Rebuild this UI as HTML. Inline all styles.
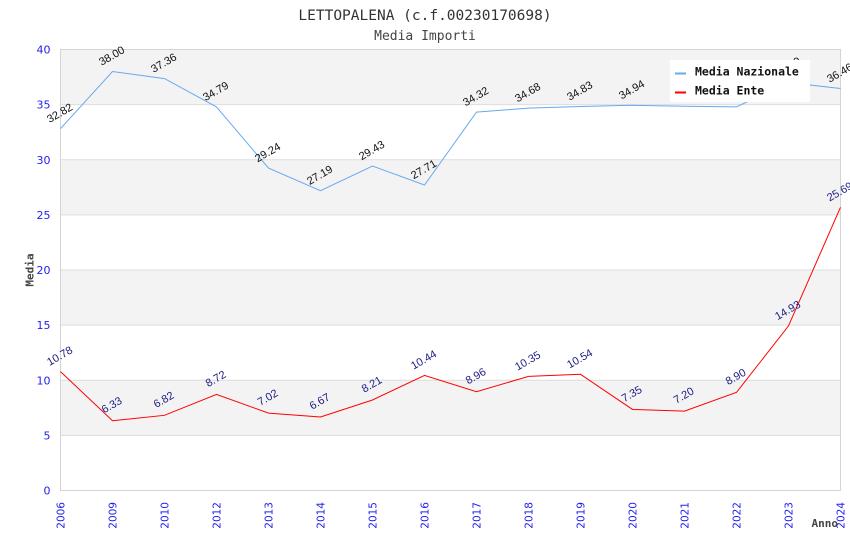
<!DOCTYPE html>
<html><head><meta charset="utf-8"><style>
html,body{margin:0;padding:0;background:#fff;}
svg{display:block;}
</style></head><body>
<svg width="850" height="550" xmlns="http://www.w3.org/2000/svg">
<rect width="850" height="550" fill="#fff"/>
<!-- bands -->
<rect x="60.5" y="49.5" width="780" height="55.125" fill="#f3f3f3"/>
<rect x="60.5" y="159.75" width="780" height="55.125" fill="#f3f3f3"/>
<rect x="60.5" y="270" width="780" height="55.125" fill="#f3f3f3"/>
<rect x="60.5" y="380.25" width="780" height="55.125" fill="#f3f3f3"/>
<!-- grid -->
<g stroke="#dddddd" stroke-width="1">
<line x1="60.5" x2="840.5" y1="435.4" y2="435.4"/>
<line x1="60.5" x2="840.5" y1="380.25" y2="380.25"/>
<line x1="60.5" x2="840.5" y1="325.1" y2="325.1"/>
<line x1="60.5" x2="840.5" y1="270" y2="270"/>
<line x1="60.5" x2="840.5" y1="214.9" y2="214.9"/>
<line x1="60.5" x2="840.5" y1="159.75" y2="159.75"/>
<line x1="60.5" x2="840.5" y1="104.6" y2="104.6"/>
</g>
<rect x="60.5" y="49.5" width="780" height="441" fill="none" stroke="#d4d4d4" stroke-width="1"/>
<!-- title -->
<text x="425" y="20" text-anchor="middle" font-family="DejaVu Sans Mono, Liberation Mono, monospace" font-size="14.5" fill="#333">LETTOPALENA (c.f.00230170698)</text>
<text x="425" y="40" text-anchor="middle" font-family="DejaVu Sans Mono, Liberation Mono, monospace" font-size="13" fill="#444">Media Importi</text>
<!-- y ticks -->
<g font-family="DejaVu Sans, Liberation Sans, sans-serif" font-size="11" fill="#2222ee" text-anchor="end">
<text x="50.5" y="53.5">40</text>
<text x="50.5" y="108.6">35</text>
<text x="50.5" y="163.75">30</text>
<text x="50.5" y="218.9">25</text>
<text x="50.5" y="274">20</text>
<text x="50.5" y="329.1">15</text>
<text x="50.5" y="384.25">10</text>
<text x="50.5" y="439.4">5</text>
<text x="50.5" y="494.5">0</text>
</g>
<!-- x ticks -->
<g font-family="DejaVu Sans, Liberation Sans, sans-serif" font-size="10.5" fill="#2222ee" text-anchor="end">
<text transform="translate(64.5,502) rotate(-90)">2006</text>
<text transform="translate(116.5,502) rotate(-90)">2009</text>
<text transform="translate(168.5,502) rotate(-90)">2010</text>
<text transform="translate(220.5,502) rotate(-90)">2012</text>
<text transform="translate(272.5,502) rotate(-90)">2013</text>
<text transform="translate(324.5,502) rotate(-90)">2014</text>
<text transform="translate(376.5,502) rotate(-90)">2015</text>
<text transform="translate(428.5,502) rotate(-90)">2016</text>
<text transform="translate(480.5,502) rotate(-90)">2017</text>
<text transform="translate(532.5,502) rotate(-90)">2018</text>
<text transform="translate(584.5,502) rotate(-90)">2019</text>
<text transform="translate(636.5,502) rotate(-90)">2020</text>
<text transform="translate(688.5,502) rotate(-90)">2021</text>
<text transform="translate(740.5,502) rotate(-90)">2022</text>
<text transform="translate(792.5,502) rotate(-90)">2023</text>
<text transform="translate(844.5,502) rotate(-90)">2024</text>
</g>
<!-- axis titles -->
<text x="838" y="527" text-anchor="end" font-family="DejaVu Sans Mono, Liberation Mono, monospace" font-weight="bold" font-size="11" fill="#444">Anno</text>
<text transform="translate(33.5,270) rotate(-90)" text-anchor="middle" font-family="DejaVu Sans Mono, Liberation Mono, monospace" font-weight="bold" font-size="11" fill="#444">Media</text>
<!-- series -->
<polyline fill="none" stroke="#66aaee" stroke-width="1" points="60.5,128.66 112.5,71.55 164.5,78.61 216.5,106.94 268.5,168.13 320.5,190.73 372.5,166.03 424.5,185 476.5,112.12 528.5,108.15 580.5,106.5 632.5,105.29 684.5,106.28 736.5,106.83 788.5,82.57 840.5,88.53"/>
<polyline fill="none" stroke="#ff0000" stroke-width="1" points="60.5,371.65 112.5,420.71 164.5,415.31 216.5,394.36 268.5,413.1 320.5,416.96 372.5,399.98 424.5,375.4 476.5,391.72 528.5,376.39 580.5,374.3 632.5,409.47 684.5,411.12 736.5,392.38 788.5,325.9 840.5,207.27"/>
<!-- labels nazionale -->
<g font-family="Liberation Sans, Arial, sans-serif" font-size="11" fill="#111" text-anchor="middle">
<text transform="translate(61.5,116.2) rotate(-30)">32.82</text>
<text transform="translate(113.5,59) rotate(-30)">38.00</text>
<text transform="translate(165.5,66.1) rotate(-30)">37.36</text>
<text transform="translate(217.5,94.4) rotate(-30)">34.79</text>
<text transform="translate(269.5,155.6) rotate(-30)">29.24</text>
<text transform="translate(321.5,178.2) rotate(-30)">27.19</text>
<text transform="translate(373.5,153.5) rotate(-30)">29.43</text>
<text transform="translate(425.5,172.5) rotate(-30)">27.71</text>
<text transform="translate(477.5,99.6) rotate(-30)">34.32</text>
<text transform="translate(529.5,95.6) rotate(-30)">34.68</text>
<text transform="translate(581.5,94) rotate(-30)">34.83</text>
<text transform="translate(633.5,92.8) rotate(-30)">34.94</text>
<text transform="translate(685.5,93.8) rotate(-30)">34.85</text>
<text transform="translate(737.5,94.3) rotate(-30)">34.80</text>
<text transform="translate(789.5,70) rotate(-30)">37.00</text>
<text transform="translate(841.5,76) rotate(-30)">36.46</text>
</g>
<!-- labels ente -->
<g font-family="Liberation Sans, Arial, sans-serif" font-size="11" fill="#1c1c84" text-anchor="middle">
<text transform="translate(61.5,359.1) rotate(-30)">10.78</text>
<text transform="translate(113.5,408.2) rotate(-30)">6.33</text>
<text transform="translate(165.5,402.8) rotate(-30)">6.82</text>
<text transform="translate(217.5,381.9) rotate(-30)">8.72</text>
<text transform="translate(269.5,400.6) rotate(-30)">7.02</text>
<text transform="translate(321.5,404.5) rotate(-30)">6.67</text>
<text transform="translate(373.5,387.5) rotate(-30)">8.21</text>
<text transform="translate(425.5,362.9) rotate(-30)">10.44</text>
<text transform="translate(477.5,379.2) rotate(-30)">8.96</text>
<text transform="translate(529.5,363.9) rotate(-30)">10.35</text>
<text transform="translate(581.5,361.8) rotate(-30)">10.54</text>
<text transform="translate(633.5,397) rotate(-30)">7.35</text>
<text transform="translate(685.5,398.6) rotate(-30)">7.20</text>
<text transform="translate(737.5,379.9) rotate(-30)">8.90</text>
<text transform="translate(789.5,313.4) rotate(-30)">14.93</text>
<text transform="translate(841.5,194.8) rotate(-30)">25.69</text>
</g>
<!-- legend -->
<rect x="670" y="60" width="140" height="42" fill="#fff"/>
<line x1="675" x2="686" y1="73.5" y2="73.5" stroke="#66aaee" stroke-width="2"/>
<line x1="675" x2="686" y1="92.5" y2="92.5" stroke="#ff0000" stroke-width="2"/>
<g font-family="DejaVu Sans Mono, Liberation Mono, monospace" font-weight="bold" font-size="11.5" fill="#111">
<text x="695" y="75.5">Media Nazionale</text>
<text x="695" y="94.5">Media Ente</text>
</g>
</svg>
</body></html>
